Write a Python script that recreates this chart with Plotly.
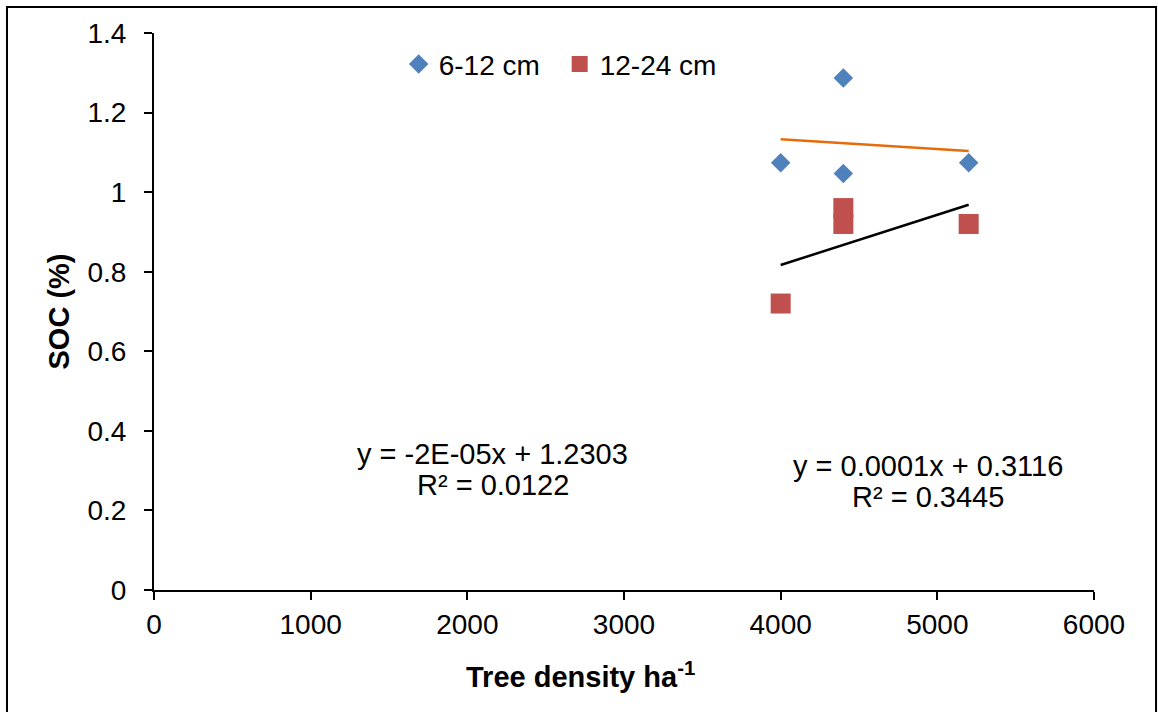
import numpy as np
import plotly.graph_objects as go

# Data
x_6_12 = [4000, 4400, 4400, 5200]
y_6_12 = [1.074, 1.287, 1.047, 1.074]
x_12_24 = [4000, 4400, 4400, 5200]
y_12_24 = [0.72, 0.96, 0.92, 0.92]
series_names = ["6-12 cm", "12-24 cm"]
eq_6_12 = ["y = -2E-05x + 1.2303", "R² = 0.0122"]
eq_12_24 = ["y = 0.0001x + 0.3116", "R² = 0.3445"]
x_title = "<b>Tree density ha<sup>-1</sup></b>"
y_title = "<b>SOC (%)</b>"

FONT = "Liberation Sans, Arial, sans-serif"

def fit_line(xs, ys):
    m, b = np.polyfit(xs, ys, 1)
    xx = np.array([min(xs), max(xs)], dtype=float)
    return xx, m * xx + b

fig = go.Figure()
fig.add_trace(go.Scatter(x=x_6_12, y=y_6_12, mode="markers", name=series_names[0],
                         marker=dict(symbol="diamond", size=15, color="#4F81BD")))
fig.add_trace(go.Scatter(x=x_12_24, y=y_12_24, mode="markers", name=series_names[1],
                         marker=dict(symbol="square", size=20, color="#C0504D")))
tx, ty = fit_line(x_6_12, y_6_12)
fig.add_trace(go.Scatter(x=tx, y=ty, mode="lines", showlegend=False,
                         line=dict(color="#E46C0A", width=2.5)))
tx, ty = fit_line(x_12_24, y_12_24)
fig.add_trace(go.Scatter(x=tx, y=ty, mode="lines", showlegend=False,
                         line=dict(color="#000000", width=2.5)))

ann_font = dict(family=FONT, size=29, color="black")
for txt, yv in zip(eq_6_12, [0.341, 0.263]):
    fig.add_annotation(x=2161, y=yv, xref="x", yref="y", text=txt, showarrow=False,
                       font=ann_font, xanchor="center", yanchor="middle")
for txt, yv in zip(eq_12_24, [0.311, 0.233]):
    fig.add_annotation(x=4940, y=yv, xref="x", yref="y", text=txt, showarrow=False,
                       font=ann_font, xanchor="center", yanchor="middle")

# x-axis title (offset left of centre as in the reference)
fig.add_annotation(x=0.454, y=-0.153, xref="paper", yref="paper", text=x_title,
                   showarrow=False, xanchor="center", yanchor="middle",
                   font=dict(family=FONT, size=29, color="black"))

# outer frame
fig.add_shape(type="rect", xref="paper", yref="paper",
              x0=-0.1564, x1=1.066, y0=-0.25, y1=1.0467,
              line=dict(color="black", width=2), fillcolor="rgba(0,0,0,0)", layer="below")

fig.update_layout(
    width=1158, height=712,
    margin=dict(l=154, r=64, t=33, b=122),
    paper_bgcolor="white", plot_bgcolor="white",
    font=dict(family=FONT, size=28, color="black"),
    showlegend=True,
    legend=dict(orientation="h", x=0.2603, y=0.944, xanchor="left", yanchor="middle",
                font=dict(family=FONT, size=28, color="black"),
                bgcolor="rgba(0,0,0,0)", itemwidth=30, entrywidth=116),
    xaxis=dict(range=[0, 6000], dtick=1000, showgrid=False, zeroline=False,
               showline=True, linecolor="black", linewidth=2,
               ticks="outside", ticklen=8, tickwidth=2, tickcolor="black",
               tickfont=dict(family=FONT, size=28, color="black")),
    yaxis=dict(range=[0, 1.4], dtick=0.2, showgrid=False, zeroline=False,
               showline=True, linecolor="black", linewidth=2,
               ticks="outside", ticklen=8, tickwidth=2, tickcolor="black",
               ticklabelstandoff=12,
               tickfont=dict(family=FONT, size=28, color="black"),
               title=dict(text=y_title, standoff=9,
                          font=dict(family=FONT, size=29, color="black"))),
)

fig.write_html("out.html", config={"displayModeBar": False},
               post_script="document.body.style.margin='0';document.documentElement.style.margin='0';")
